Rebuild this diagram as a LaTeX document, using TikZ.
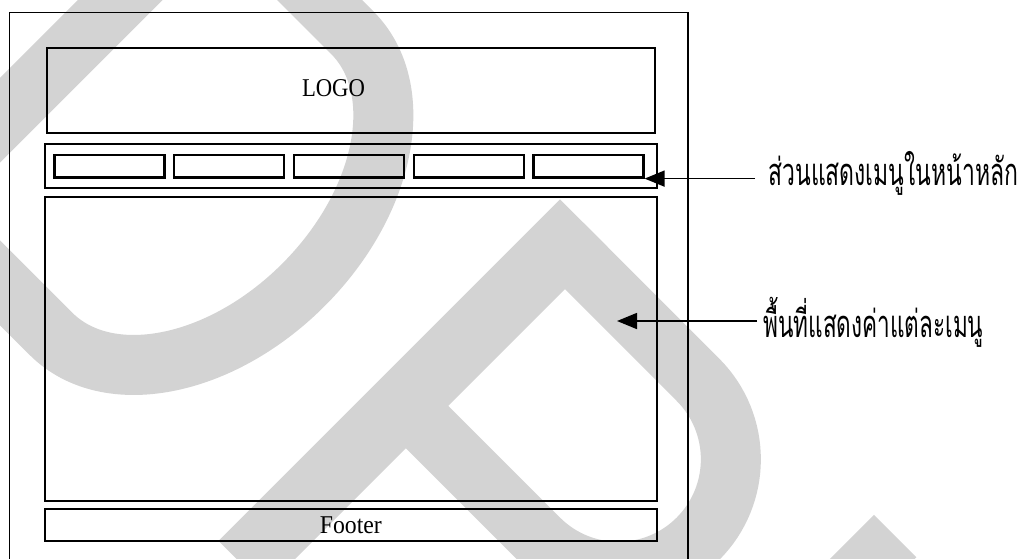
\documentclass[tikz,border=0pt]{standalone}
\usepackage{fontspec}
\usepackage{graphicx}
\setmainfont{Liberation Serif}
\newfontfamily\thaifont[Script=Thai]{Loma}
\usetikzlibrary{arrows.meta}
\definecolor{wmgray}{RGB}{211,211,211}

\begin{document}
\begin{tikzpicture}[x=0.5pt,y=-0.5pt,
	font=\fontsize{12.8}{15}\selectfont,
	panel/.style={draw, line width=1.1pt, inner sep=0pt, minimum width=306.15pt},
	menubox/.style={draw, line width=1.1pt, inner sep=0pt, minimum width=55pt, minimum height=11.25pt},
	wm/.style={draw=wmgray, line width=30pt},
	arr/.style={-{Triangle[length=10pt,width=8pt]}, line width=0.8pt},
	note/.style={anchor=base west, inner ysep=0pt, font=\thaifont\fontsize{19}{22}\selectfont}]
	\useasboundingbox (0,0) rectangle (1021,558);
	\clip (0,0) rectangle (1021,558);
	\begin{scope}[x={(0.35355pt,-0.35355pt)}, y={(0.35355pt,0.35355pt)}]
		\fill[wmgray] (55,-230) -- (115,-230) -- (115,256) -- (55,256) -- cycle;
		\draw[wm] (85,226) -- (272,226) arc[start angle=90, end angle=-90, x radius=144, y radius=213] -- (85,-200);
		\fill[wmgray] (537,-228) -- (604,-228) -- (604,255) -- (537,255) -- cycle;
		\draw[wm] (570,225) -- (762,225) arc[start angle=90, end angle=-90, radius=112.5] -- (570,0);
		\draw[wm] (1012,254) -- (1012,-80) arc[start angle=180, end angle=360, radius=120] -- (1252,254);
	\end{scope}
	\draw[line width=0.8pt] (9.3,12.3) rectangle (688,575);
	\node[panel, minimum width=304pt, minimum height=42.5pt] (logo) at (351,90.4) {};
	\node (logotext) at (333.5,88) {\resizebox{31.5pt}{\height}{LOGO}};
	\node[panel, minimum height=22pt] (menubar) at (350.85,166) {};
	\foreach \i in {1,...,5}
		\node[menubox] (m\i) at ({109.5+119.75*(\i-1)},166.25) {};
	\node[panel, minimum height=151.85pt] (content) at (350.85,349.15) {};
	\node[panel, minimum height=16pt] (footer) at (350.85,525) {\resizebox{31pt}{\height}{Footer}};
	\node[note, inner xsep=6.5pt] (menulbl) at (755,185) {\resizebox{125pt}{\height}{ส่วนแสดงเมนูในหน้าหลัก}};
	\draw[arr] (menulbl.west |- m5.south east) -- (m5.south east);
	\coordinate (areatip) at (617,321);
	\node[note, inner xsep=3pt] (arealbl) at (757,337) {\resizebox{110pt}{\height}{พื้นที่แสดงค่าแต่ละเมนู}};
	\draw[arr] (arealbl.west |- areatip) -- (areatip);
\end{tikzpicture}
\end{document}
